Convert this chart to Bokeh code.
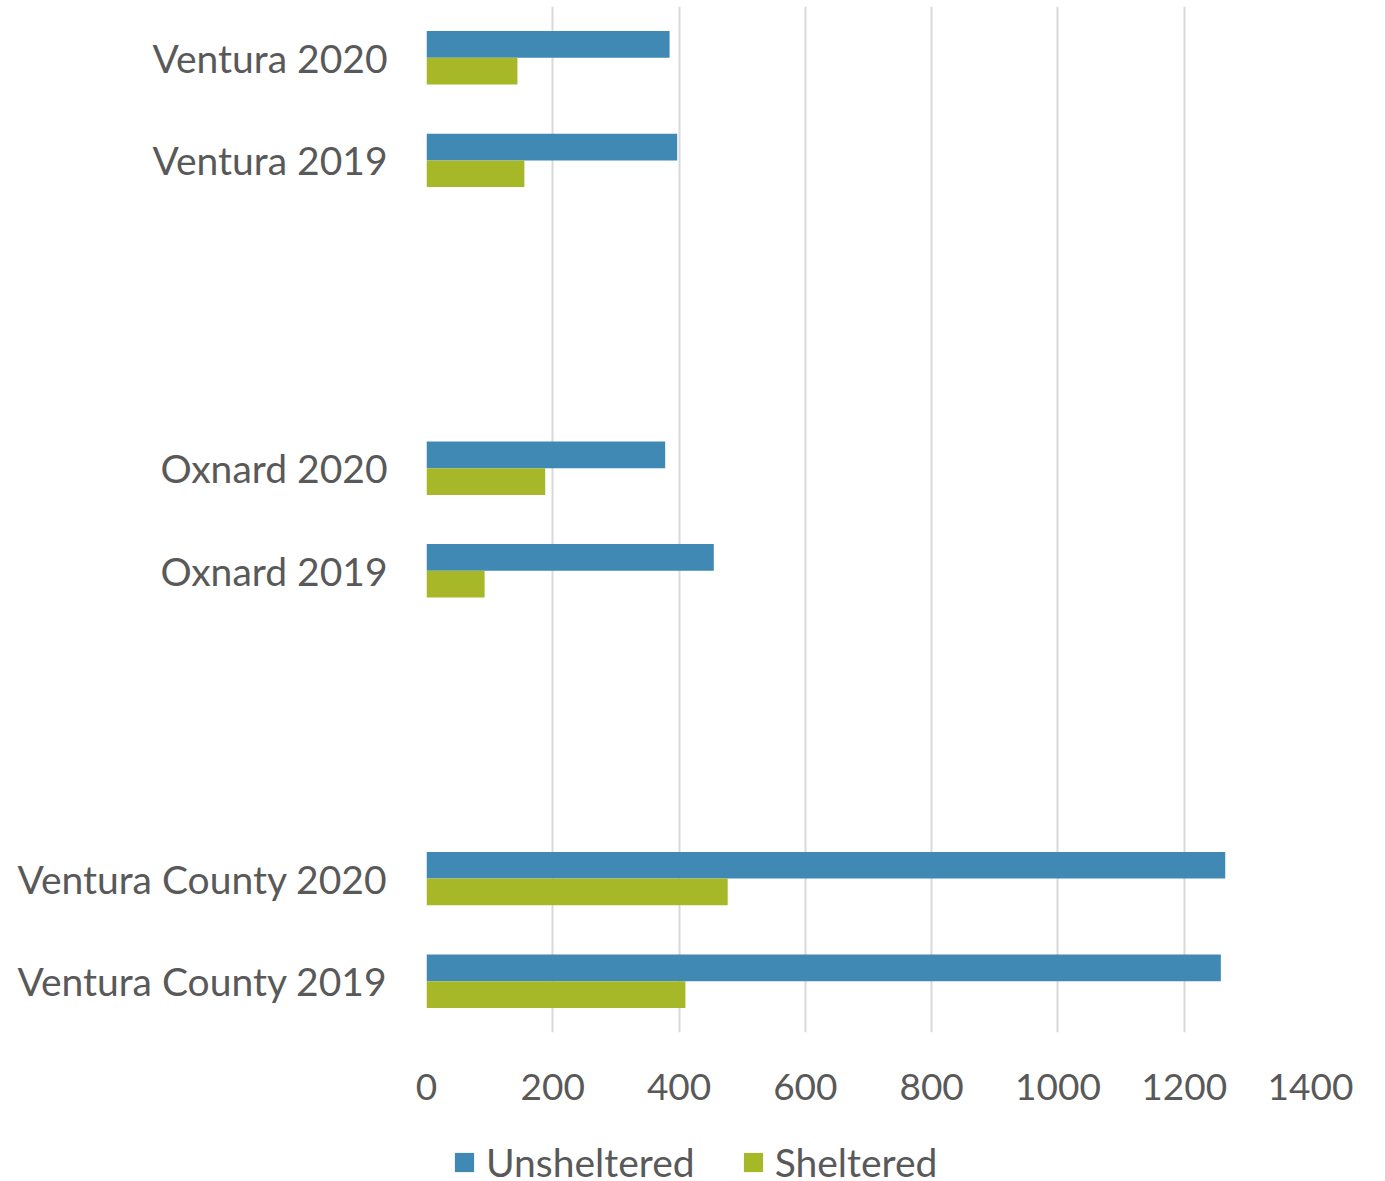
from bokeh.plotting import figure
from bokeh.layouts import column
from bokeh.models import FactorRange, Legend, LegendItem, Range1d, FixedTicker
from bokeh.transform import dodge
from bokeh.models import ColumnDataSource
from bokeh.embed import file_html
from bokeh.resources import INLINE

categories = ["Ventura County 2019", "Ventura County 2020", " ", "  ",
              "Oxnard 2019", "Oxnard 2020", "   ", "    ",
              "Ventura 2019", "Ventura 2020"]
bar_categories = ["Ventura County 2019", "Ventura County 2020",
                  "Oxnard 2019", "Oxnard 2020",
                  "Ventura 2019", "Ventura 2020"]
unsheltered = [1258, 1265, 455, 378, 397, 385]
sheltered = [410, 477, 92, 188, 155, 144]
x_ticks = [0, 200, 400, 600, 800, 1000, 1200, 1400]
series_names = ["Unsheltered", "Sheltered"]

BLUE = "#3F89B4"
GREEN = "#A6B728"
TEXT = "#595959"
FONT = "Lato"

src = ColumnDataSource(dict(cat=bar_categories, uns=unsheltered, sh=sheltered))

p = figure(y_range=FactorRange(*categories), x_range=Range1d(0, 1400),
           frame_width=884, frame_height=1026, output_backend="svg", toolbar_location=None,
           min_border_left=426, min_border_right=67, min_border_top=6, min_border_bottom=88)
p.outline_line_color = None

r1 = p.hbar(y=dodge("cat", 0.13, range=p.y_range), right="uns", left=0, height=0.26,
            source=src, fill_color=BLUE, line_color=None)
r2 = p.hbar(y=dodge("cat", -0.13, range=p.y_range), right="sh", left=0, height=0.26,
            source=src, fill_color=GREEN, line_color=None)

p.xaxis.ticker = FixedTicker(ticks=x_ticks)
p.xaxis.axis_line_color = None
p.xaxis.major_tick_line_color = None
p.xaxis.minor_tick_line_color = None
p.xaxis.major_label_text_font = FONT
p.xaxis.major_label_text_font_size = "37px"
p.xaxis.major_label_text_color = TEXT
p.xaxis.major_label_standoff = 35

p.yaxis.axis_line_color = None
p.yaxis.major_tick_line_color = None
p.yaxis.minor_tick_line_color = None
p.yaxis.major_label_text_font = FONT
p.yaxis.major_label_text_font_size = "39px"
p.yaxis.major_label_text_color = TEXT
p.yaxis.major_label_standoff = 33

p.ygrid.grid_line_color = None
p.xgrid.grid_line_color = "#D9D9D9"
p.xgrid.grid_line_width = 2

# Legend strip below the chart (same series, hidden renderers serve as legend keys)
lg = figure(width=1377, height=61, y_range=FactorRange(*categories), x_range=Range1d(0, 1400),
            output_backend="svg", toolbar_location=None,
            min_border_left=0, min_border_right=0, min_border_top=0, min_border_bottom=0)
lg.axis.visible = False
lg.grid.visible = False
lg.outline_line_color = None
l1 = lg.hbar(y=dodge("cat", 0.13, range=lg.y_range), right="uns", left=0, height=0.26,
             source=src, fill_color=BLUE, line_color=None, visible=False)
l2 = lg.hbar(y=dodge("cat", -0.13, range=lg.y_range), right="sh", left=0, height=0.26,
             source=src, fill_color=GREEN, line_color=None, visible=False)

legend = Legend(items=[LegendItem(label=series_names[0], renderers=[l1]),
                       LegendItem(label=series_names[1], renderers=[l2])],
                orientation="horizontal", location=(26, -4),
                label_text_font=FONT, label_text_font_size="39px", label_text_color=TEXT,
                glyph_width=24, glyph_height=24, spacing=46, label_standoff=10,
                border_line_color=None, background_fill_alpha=0, margin=0, padding=0,
                inactive_fill_alpha=0)
lg.add_layout(legend, "center")

layout = column(p, lg, spacing=0)
open("out.html", "w").write(file_html(layout, INLINE))
